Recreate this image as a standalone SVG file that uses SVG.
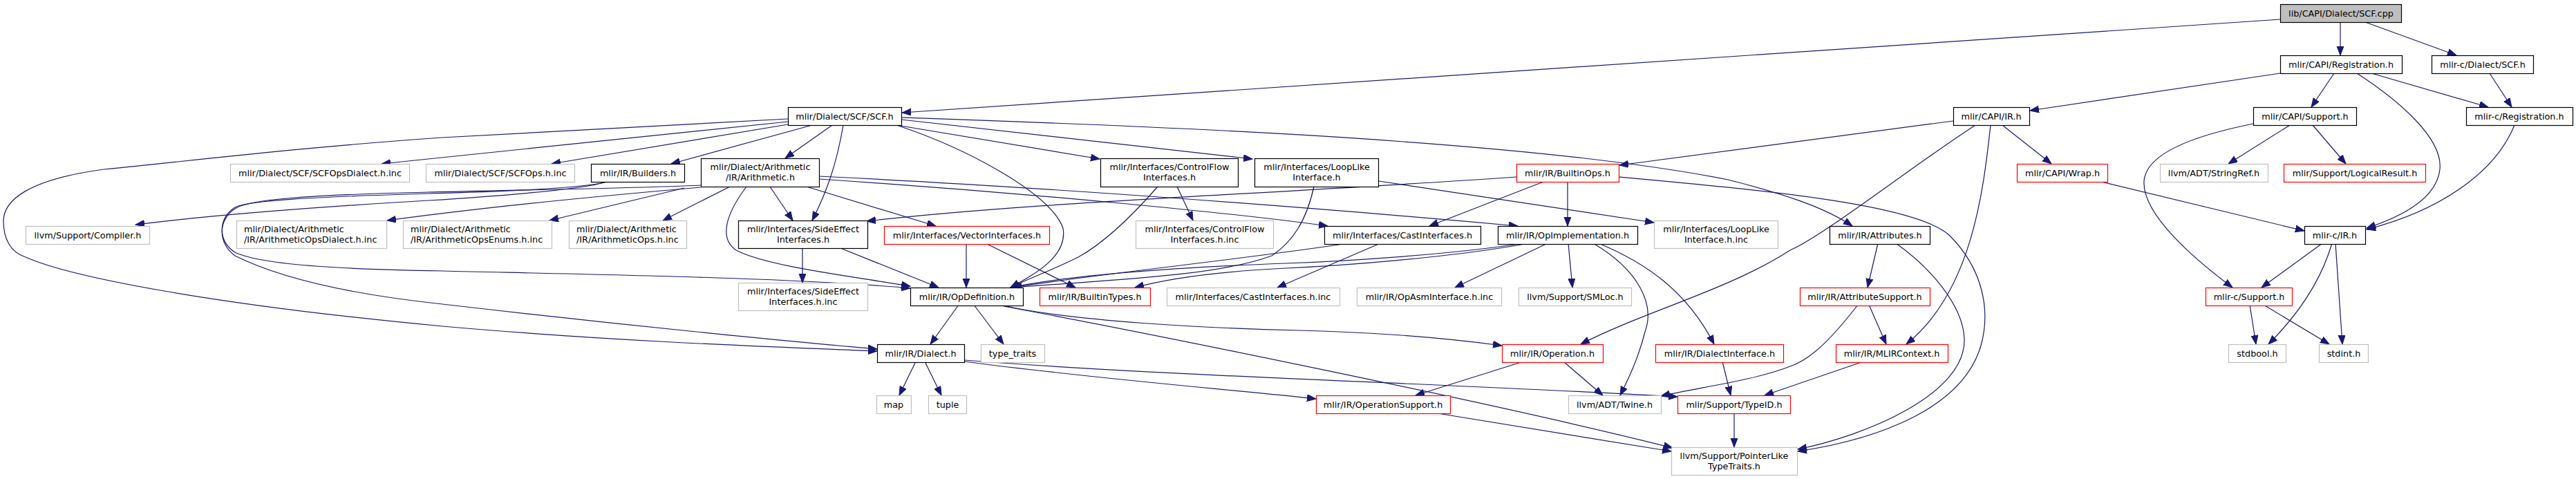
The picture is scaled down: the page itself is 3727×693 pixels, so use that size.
<svg xmlns="http://www.w3.org/2000/svg" width="3727" height="693" viewBox="0 0 3727 693">
<style>
rect{fill:#fff;stroke:#000;stroke-width:1.2}
.g rect{stroke:#bfbfbf}
.r rect{stroke:#ff0000}
.root rect{fill:#bfbfbf}
text{font-family:"DejaVu Sans",sans-serif;font-size:12.8px;text-anchor:middle;fill:#000}
text.l{text-anchor:start}
#edges path{fill:none;stroke:#191970;stroke-width:1.2;marker-end:url(#ah)}
</style>
<defs>
<marker id="ah" markerWidth="14" markerHeight="11" refX="13" refY="5" orient="auto" markerUnits="userSpaceOnUse"><path d="M0,0 L13,5 L0,10 z" fill="#191970" stroke="#191970" stroke-width="1"/></marker>
</defs>
<rect x="0" y="0" width="3727" height="693" style="fill:#fff;stroke:none"/>
<g id="edges">
<path d="M3299,28 L1305,163"/>
<path d="M3386,32 L3386,80"/>
<path d="M3422,32 L3554,80"/>
<path d="M3299,106 L2937,160"/>
<path d="M3377,106 L3344,155"/>
<path d="M3410,106 C3470,145 3535,200 3530,245 C3525,290 3470,315 3424,330"/>
<path d="M3431,106 L3600,155"/>
<path d="M3602,106 L3634,155"/>
<path d="M3638,181 C3610,250 3530,305 3424,332"/>
<path d="M3313,181 L3224,237"/>
<path d="M3346,181 L3394,237"/>
<path d="M3260,179 C3180,195 3105,220 3102,262 C3099,310 3175,375 3230,416"/>
<path d="M3040,263 L3334,334"/>
<path d="M3360,352 L3272,416"/>
<path d="M3374,352 C3360,400 3330,450 3282,498"/>
<path d="M3379,352 L3389,498"/>
<path d="M3255,441 L3264,498"/>
<path d="M3275,441 L3370,498"/>
<path d="M2826,175 L2343,239"/>
<path d="M2897,181 L2968,237"/>
<path d="M2880,181 C2870,270 2855,420 2758,498"/>
<path d="M2858,181 C2760,245 2640,340 2590,362 C2500,420 2380,450 2287,498"/>
<path d="M2268,263 L2268,327"/>
<path d="M2233,263 L2068,327"/>
<path d="M2194,256 C1800,283 1500,292 1254,320"/>
<path d="M2342,256 C2550,275 2770,295 2820,340 C2870,390 2880,450 2866,500 C2840,590 2720,635 2601,653"/>
<path d="M2717,352 L2702,416"/>
<path d="M2743,352 C2790,385 2840,440 2842,490 C2845,570 2700,630 2601,650"/>
<path d="M2704,441 L2729,498"/>
<path d="M2688,441 C2650,490 2620,520 2590,530 C2540,550 2460,560 2403,573"/>
<path d="M2492,523 L2504,572"/>
<path d="M2696,523 L2553,572"/>
<path d="M2509,598 L2509,647"/>
<path d="M2204,523 L2048,572"/>
<path d="M2262,523 L2319,572"/>
<path d="M2080,598 L2418,653"/>
<path d="M2239,352 L2105,416"/>
<path d="M2269,352 L2275,416"/>
<path d="M2305,352 C2370,390 2395,440 2380,480 C2370,520 2355,550 2344,572"/>
<path d="M2313,352 C2380,380 2440,420 2480,498"/>
<path d="M2204,352 C2100,368 1950,378 1860,381 C1700,387 1550,398 1462,416"/>
<path d="M2206,353 C2100,372 1950,384 1860,388 C1760,393 1690,403 1642,416"/>
<path d="M1997,352 L1848,416"/>
<path d="M1950,352 C1800,375 1600,395 1463,416"/>
<path d="M1387,441 L1346,498"/>
<path d="M1409,441 L1452,498"/>
<path d="M1452,442 C1550,465 1750,475 1880,478 C2000,481 2100,490 2173,500"/>
<path d="M1452,443 C1650,480 2150,580 2420,648"/>
<path d="M1325,523 L1301,572"/>
<path d="M1338,523 L1362,572"/>
<path d="M1395,523 C1600,550 1800,565 1904,577"/>
<path d="M1395,521 C1700,545 2100,555 2427,574"/>
<path d="M1161,359 L1161,409"/>
<path d="M1216,359 L1358,416"/>
<path d="M1398,352 L1398,416"/>
<path d="M1426,352 L1556,416"/>
<path d="M1703,270 L1726,319"/>
<path d="M1675,270 C1640,310 1600,350 1560,372 C1520,392 1490,402 1462,416"/>
<path d="M1995,262 L2393,322"/>
<path d="M1901,270 C1890,320 1870,350 1840,370 C1760,400 1600,405 1465,416"/>
<path d="M1140,176 L552,237"/>
<path d="M1140,180 L798,237"/>
<path d="M1175,181 L971,237"/>
<path d="M1204,181 L1136,229"/>
<path d="M1220,181 C1210,240 1195,280 1175,319"/>
<path d="M1297,181 L1591,230"/>
<path d="M1304,173 L1812,230"/>
<path d="M1304,170 C1600,180 2200,200 2500,260 C2580,280 2640,300 2680,327"/>
<path d="M1297,181 C1400,215 1520,280 1538,330 C1545,370 1500,395 1462,416"/>
<path d="M1140,172 C900,185 700,195 640,199 C450,212 300,230 150,245 C40,260 5,290 5,320 C5,345 15,365 37,372 C100,400 300,440 640,472 C900,495 1150,503 1269,508"/>
<path d="M878,263 C840,275 700,285 620,290 C450,300 300,312 196,325"/>
<path d="M878,263 C840,273 700,278 620,280 C450,285 360,290 340,300 C315,315 315,350 340,365 C380,385 520,390 640,392 C900,398 1150,402 1317,417"/>
<path d="M1014,268 C900,273 700,276 620,278 C450,282 360,288 340,302 C315,318 315,352 340,370 C400,400 500,425 640,440 C900,470 1150,495 1269,505"/>
<path d="M1080,270 C1050,310 1040,345 1065,362 C1110,385 1220,398 1317,414"/>
<path d="M1014,271 C850,285 700,300 560,319"/>
<path d="M990,272 L795,319"/>
<path d="M1056,270 L959,319"/>
<path d="M1114,270 L1147,319"/>
<path d="M1167,270 L1354,327"/>
<path d="M1185,255 C1500,270 1900,300 2196,327"/>
<path d="M1185,259 C1500,280 1800,310 1921,327"/>
</g>
<g id="n_root" class="root"><rect x="3299.5" y="6.5" width="175" height="26"/><text x="3387" y="24">lib/CAPI/Dialect/SCF.cpp</text></g>
<g id="n_capi_registration"><rect x="3299.5" y="80.5" width="176" height="26"/><text x="3387" y="98">mlir/CAPI/Registration.h</text></g>
<g id="n_c_dialect_scf"><rect x="3518.5" y="80.5" width="147" height="26"/><text x="3592" y="98">mlir-c/Dialect/SCF.h</text></g>
<g id="n_capi_support"><rect x="3260.5" y="155.5" width="149" height="26"/><text x="3335" y="173">mlir/CAPI/Support.h</text></g>
<g id="n_c_registration"><rect x="3568.5" y="155.5" width="154" height="26"/><text x="3645" y="173">mlir-c/Registration.h</text></g>
<g id="n_stringref" class="g"><rect x="3125.5" y="237.5" width="156" height="26"/><text x="3203" y="255">llvm/ADT/StringRef.h</text></g>
<g id="n_logicalresult" class="r"><rect x="3304.5" y="237.5" width="205" height="26"/><text x="3407" y="255">mlir/Support/LogicalResult.h</text></g>
<g id="n_c_ir"><rect x="3334.5" y="327.5" width="88" height="26"/><text x="3378" y="345">mlir-c/IR.h</text></g>
<g id="n_c_support" class="r"><rect x="3191.5" y="416.5" width="125" height="26"/><text x="3254" y="434">mlir-c/Support.h</text></g>
<g id="n_stdbool" class="g"><rect x="3224.5" y="498.5" width="83" height="26"/><text x="3266" y="516">stdbool.h</text></g>
<g id="n_stdint" class="g"><rect x="3355.5" y="498.5" width="71" height="26"/><text x="3391" y="516">stdint.h</text></g>
<g id="n_capi_ir"><rect x="2826.5" y="155.5" width="110" height="26"/><text x="2881" y="173">mlir/CAPI/IR.h</text></g>
<g id="n_capi_wrap" class="r"><rect x="2918.5" y="237.5" width="131" height="26"/><text x="2984" y="255">mlir/CAPI/Wrap.h</text></g>
<g id="n_builtinops" class="r"><rect x="2194.5" y="237.5" width="148" height="26"/><text x="2268" y="255">mlir/IR/BuiltinOps.h</text></g>
<g id="n_attributes"><rect x="2647.5" y="327.5" width="145" height="26"/><text x="2720" y="345">mlir/IR/Attributes.h</text></g>
<g id="n_attributesupport" class="r"><rect x="2604.5" y="416.5" width="188" height="26"/><text x="2698" y="434">mlir/IR/AttributeSupport.h</text></g>
<g id="n_mlircontext" class="r"><rect x="2656.5" y="498.5" width="162" height="26"/><text x="2737" y="516">mlir/IR/MLIRContext.h</text></g>
<g id="n_dialectinterface" class="r"><rect x="2395.5" y="498.5" width="185" height="26"/><text x="2488" y="516">mlir/IR/DialectInterface.h</text></g>
<g id="n_typeid" class="r"><rect x="2427.5" y="572.5" width="163" height="26"/><text x="2509" y="590">mlir/Support/TypeID.h</text></g>
<g id="n_pointerlike" class="g"><rect x="2418.5" y="647.5" width="182" height="40"/><text x="2509" y="664">llvm/Support/PointerLike</text><text x="2509" y="679">TypeTraits.h</text></g>
<g id="n_twine" class="g"><rect x="2269.5" y="572.5" width="134" height="26"/><text x="2336" y="590">llvm/ADT/Twine.h</text></g>
<g id="n_operation" class="r"><rect x="2173.5" y="498.5" width="146" height="26"/><text x="2246" y="516">mlir/IR/Operation.h</text></g>
<g id="n_operationsupport" class="r"><rect x="1904.5" y="572.5" width="194" height="26"/><text x="2001" y="590">mlir/IR/OperationSupport.h</text></g>
<g id="n_smloc" class="g"><rect x="2197.5" y="416.5" width="163" height="26"/><text x="2279" y="434">llvm/Support/SMLoc.h</text></g>
<g id="n_opasm" class="g"><rect x="1963.5" y="416.5" width="209" height="26"/><text x="2068" y="434">mlir/IR/OpAsmInterface.h.inc</text></g>
<g id="n_castinc" class="g"><rect x="1688.5" y="416.5" width="250" height="26"/><text x="1813" y="434">mlir/Interfaces/CastInterfaces.h.inc</text></g>
<g id="n_builtintypes" class="r"><rect x="1504.5" y="416.5" width="160" height="26"/><text x="1584" y="434">mlir/IR/BuiltinTypes.h</text></g>
<g id="n_opdefinition"><rect x="1317.5" y="416.5" width="163" height="26"/><text x="1399" y="434">mlir/IR/OpDefinition.h</text></g>
<g id="n_dialect"><rect x="1269.5" y="498.5" width="126" height="26"/><text x="1332" y="516">mlir/IR/Dialect.h</text></g>
<g id="n_typetraits" class="g"><rect x="1419.5" y="498.5" width="92" height="26"/><text x="1465" y="516">type_traits</text></g>
<g id="n_map" class="g"><rect x="1268.5" y="572.5" width="50" height="26"/><text x="1293" y="590">map</text></g>
<g id="n_tuple" class="g"><rect x="1343.5" y="572.5" width="55" height="26"/><text x="1371" y="590">tuple</text></g>
<g id="n_sideeffectinc" class="g"><rect x="1068.5" y="409.5" width="187" height="40"/><text x="1162" y="426">mlir/Interfaces/SideEffect</text><text x="1162" y="441">Interfaces.h.inc</text></g>
<g id="n_sideeffect"><rect x="1068.5" y="319.5" width="187" height="40"/><text x="1162" y="336">mlir/Interfaces/SideEffect</text><text x="1162" y="351">Interfaces.h</text></g>
<g id="n_vector" class="r"><rect x="1279.5" y="327.5" width="239" height="26"/><text x="1399" y="345">mlir/Interfaces/VectorInterfaces.h</text></g>
<g id="n_controlflowinc" class="g"><rect x="1643.5" y="319.5" width="199" height="40"/><text x="1743" y="336">mlir/Interfaces/ControlFlow</text><text x="1743" y="351">Interfaces.h.inc</text></g>
<g id="n_cast"><rect x="1916.5" y="327.5" width="226" height="26"/><text x="2029" y="345">mlir/Interfaces/CastInterfaces.h</text></g>
<g id="n_opimpl"><rect x="2167.5" y="327.5" width="202" height="26"/><text x="2268" y="345">mlir/IR/OpImplementation.h</text></g>
<g id="n_looplikeinc" class="g"><rect x="2393.5" y="319.5" width="179" height="40"/><text x="2483" y="336">mlir/Interfaces/LoopLike</text><text x="2483" y="351">Interface.h.inc</text></g>
<g id="n_controlflow"><rect x="1592.5" y="229.5" width="199" height="41"/><text x="1692" y="246">mlir/Interfaces/ControlFlow</text><text x="1692" y="261">Interfaces.h</text></g>
<g id="n_looplike"><rect x="1815.5" y="229.5" width="179" height="41"/><text x="1905" y="246">mlir/Interfaces/LoopLike</text><text x="1905" y="261">Interface.h</text></g>
<g id="n_scf"><rect x="1140.5" y="155.5" width="164" height="26"/><text x="1222" y="173">mlir/Dialect/SCF/SCF.h</text></g>
<g id="n_scfopsdialect" class="g"><rect x="333.5" y="237.5" width="259" height="26"/><text x="463" y="255">mlir/Dialect/SCF/SCFOpsDialect.h.inc</text></g>
<g id="n_scfops" class="g"><rect x="616.5" y="237.5" width="215" height="26"/><text x="724" y="255">mlir/Dialect/SCF/SCFOps.h.inc</text></g>
<g id="n_builders"><rect x="855.5" y="237.5" width="135" height="26"/><text x="923" y="255">mlir/IR/Builders.h</text></g>
<g id="n_arithmetic"><rect x="1014.5" y="229.5" width="171" height="41"/><text x="1100" y="246">mlir/Dialect/Arithmetic</text><text x="1100" y="261">/IR/Arithmetic.h</text></g>
<g id="n_compiler" class="g"><rect x="37.5" y="327.5" width="179" height="26"/><text x="127" y="345">llvm/Support/Compiler.h</text></g>
<g id="n_arithopsdialect" class="g"><rect x="342.5" y="319.5" width="217" height="40"/><text class="l" x="353" y="336">mlir/Dialect/Arithmetic</text><text class="l" x="353" y="351">/IR/ArithmeticOpsDialect.h.inc</text></g>
<g id="n_arithopsenums" class="g"><rect x="583.5" y="319.5" width="215" height="40"/><text class="l" x="594" y="336">mlir/Dialect/Arithmetic</text><text class="l" x="594" y="351">/IR/ArithmeticOpsEnums.h.inc</text></g>
<g id="n_arithops" class="g"><rect x="823.5" y="319.5" width="170" height="40"/><text class="l" x="834" y="336">mlir/Dialect/Arithmetic</text><text class="l" x="834" y="351">/IR/ArithmeticOps.h.inc</text></g>
</svg>
